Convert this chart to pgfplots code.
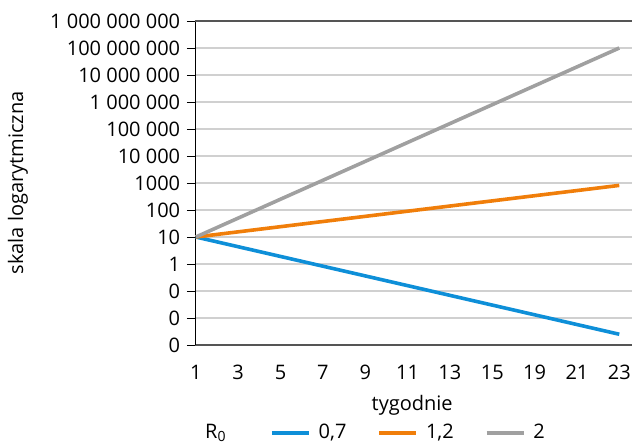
\documentclass[border=0pt]{standalone}
\usepackage{pgfplots}
\pgfplotsset{compat=1.18}
\usepackage{fontspec}
\setmainfont{Open Sans}
\definecolor{rblue}{HTML}{0E8FD8}
\definecolor{rorange}{HTML}{F07E0A}
\definecolor{rgray}{HTML}{A0A0A0}
\definecolor{gridc}{HTML}{D0D0D0}
\definecolor{axisc}{HTML}{555555}
\begin{document}
\fontsize{20bp}{24bp}\selectfont
\begin{tikzpicture}
\path[use as bounding box] (-195bp,-102bp) rectangle (437bp,345bp);
\begin{axis}[
  at={(0,0)}, anchor=south west,
  scale only axis, width=437bp, height=324bp,
  ymode=log, ymin=1e-3, ymax=1e9,
  xmin=-0.02, xmax=10.3,
  axis x line*=bottom, axis y line*=left,
  x axis line style={draw=axisc, line width=1.4bp, -},
  y axis line style={draw=black, line width=0.9bp, -},
  xtick={0,...,10},
  xticklabels={1,3,5,7,9,11,13,15,19,21,23},
  xtick style={draw=none},
  xticklabel style={yshift=-5bp},
  ytick={1e-3,1e-2,1e-1,1,10,100,1000,1e4,1e5,1e6,1e7,1e8,1e9},
  yticklabels={0,0,0,1,10,100,1000,10~000,100~000,1~000~000,10~000~000,100~000~000,1~000~000~000},
  ytick style={draw=black, line width=0.9bp},
  tick align=outside, major tick length=8bp,
  minor tick num=0, yminorticks=false,
  ymajorgrids, grid style={draw=gridc, line width=1.2bp},
  xlabel={tygodnie}, ylabel={skala logarytmiczna},
  label style={font=\fontsize{21.5bp}{25bp}\selectfont},
  every axis x label/.style={at={(axis description cs:0.497,-0.185)}, anchor=center},
  every axis y label/.style={at={(axis description cs:-0.405,0.5)}, anchor=center, rotate=90},
  legend style={at={(axis description cs:0.412,-0.272)}, anchor=center, draw=none,
    legend columns=-1, fill=none,
    /tikz/every even column/.append style={column sep=29bp}},
  legend image code/.code={\draw[#1] (0bp,0bp) -- (37bp,0bp); \path (43bp,0bp);},
]
\addlegendimage{empty legend}
\addlegendentry{R\textsubscript{0}\rule{13bp}{0bp}}
\addplot[rblue, line width=3.6bp] coordinates {(0,10) (10,0.0025)};
\addlegendentry{0,7}
\addplot[rorange, line width=3.6bp] coordinates {(0,10) (10,815)};
\addlegendentry{1,2}
\addplot[rgray, line width=3.6bp] coordinates {(0,10) (10,1e8)};
\addlegendentry{2}
\draw[axisc, line width=1.4bp] (rel axis cs:0,1) -- (rel axis cs:1,1);
\end{axis}
\end{tikzpicture}
\end{document}
